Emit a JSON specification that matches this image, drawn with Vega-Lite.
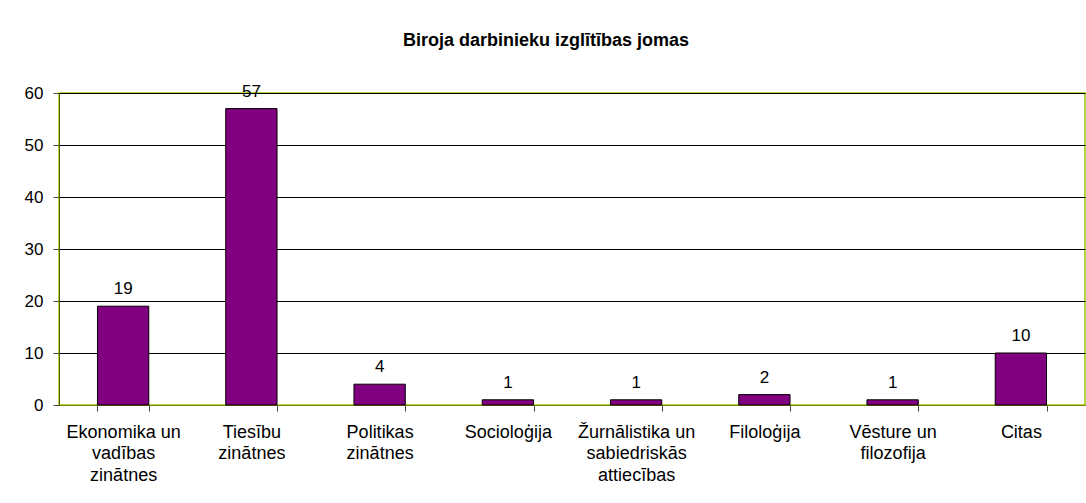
{
  "$schema": "https://vega.github.io/schema/vega-lite/v6.json",
  "autosize": {"type": "none"},
  "width": 1026,
  "height": 312,
  "padding": {"left": 59, "top": 93, "right": 1, "bottom": 98},
  "background": "white",
  "config": {
    "font": "Liberation Sans",
    "view": {"stroke": "#99CC00", "strokeWidth": 1.5}
  },
  "title": {
    "text": "Biroja darbinieku izglītības jomas",
    "anchor": "middle",
    "frame": "group",
    "dx": -26,
    "fontSize": 18,
    "fontWeight": "bold",
    "font": "Liberation Sans",
    "color": "black",
    "baseline": "alphabetic",
    "offset": 19
  },
  "data": {
    "values": [
      {"joma": "Ekonomika un\nvadības\nzinātnes", "skaits": 19},
      {"joma": "Tiesību\nzinātnes", "skaits": 57},
      {"joma": "Politikas\nzinātnes", "skaits": 4},
      {"joma": "Socioloģija", "skaits": 1},
      {"joma": "Žurnālistika un\nsabiedriskās\nattiecības", "skaits": 1},
      {"joma": "Filoloģija", "skaits": 2},
      {"joma": "Vēsture un\nfilozofija", "skaits": 1},
      {"joma": "Citas", "skaits": 10}
    ]
  },
  "encoding": {
    "x": {
      "field": "joma",
      "type": "nominal",
      "sort": null,
      "scale": {"paddingInner": 0.6, "paddingOuter": 0.3},
      "axis": {
        "title": null,
        "labelAngle": 0,
        "labelExpr": "split(datum.label, '\\n')",
        "labelFontSize": 18,
        "labelColor": "black",
        "labelLineHeight": 21.7,
        "labelBaseline": "top",
        "labelPadding": 12,
        "tickBand": "extent",
        "tickSize": 6,
        "tickColor": "#444444",
        "domainColor": "#808000",
        "grid": false
      }
    },
    "y": {
      "field": "skaits",
      "type": "quantitative",
      "scale": {"domain": [0, 60], "nice": false},
      "axis": {
        "title": null,
        "values": [0, 10, 20, 30, 40, 50, 60],
        "labelFontSize": 17,
        "labelColor": "black",
        "labelPadding": 10,
        "tickSize": 6,
        "tickColor": "#444444",
        "domainColor": "#5a5a00",
        "gridColor": "black",
        "gridOpacity": 1,
        "gridWidth": 1
      }
    }
  },
  "layer": [
    {
      "mark": {"type": "bar", "color": "#800080", "stroke": "black", "strokeWidth": 1}
    },
    {
      "mark": {"type": "text", "fontSize": 17, "color": "black", "baseline": "alphabetic", "dy": -12},
      "encoding": {"text": {"field": "skaits", "type": "quantitative"}}
    }
  ]
}
